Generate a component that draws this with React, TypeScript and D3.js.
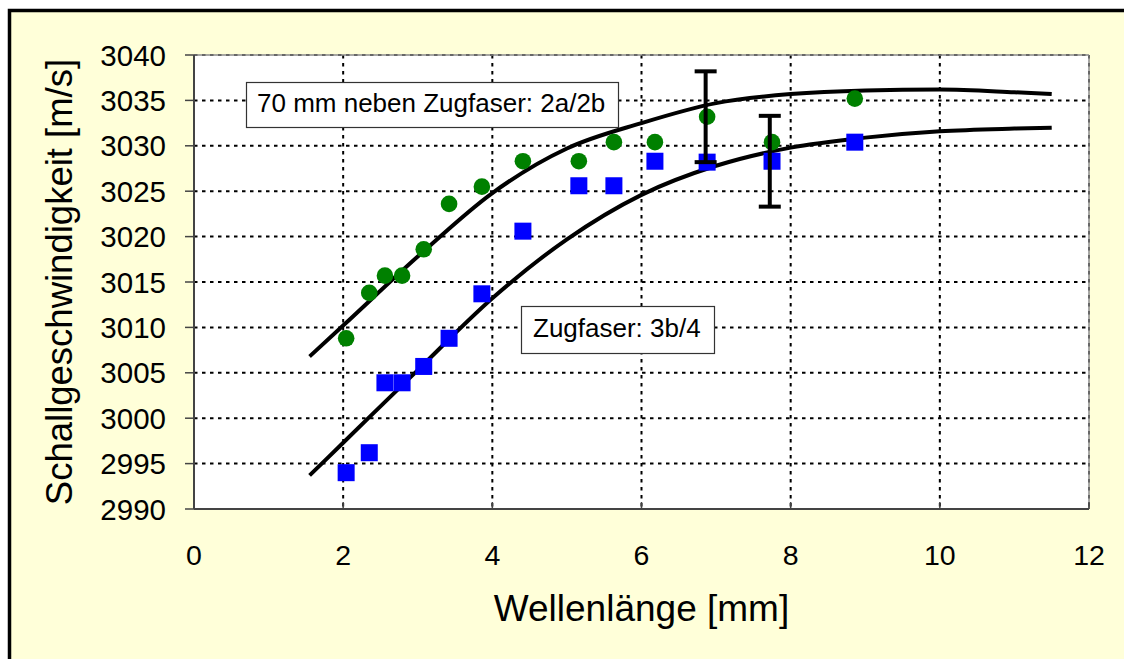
import React from "react";
import * as d3 from "d3";

// Measured wavelength positions (mm)
const wavelengths = [2.04, 2.35, 2.56, 2.79, 3.08, 3.42, 3.86, 4.41, 5.16, 5.63, 6.18, 6.88, 7.75, 8.86];
// Sound speed, 70 mm beside tension fibre (2a/2b), m/s
const speedBeside = [3008.8, 3013.8, 3015.7, 3015.7, 3018.6, 3023.6, 3025.5, 3028.3, 3028.3, 3030.4, 3030.4, 3033.2, 3030.4, 3035.2];
// Sound speed, tension fibre (3b/4), m/s
const speedFibre = [2994.0, 2996.2, 3003.9, 3003.9, 3005.7, 3008.8, 3013.7, 3020.6, 3025.6, 3025.6, 3028.3, 3028.2, 3028.3, 3030.4];

// Fitted trend curves
const fitX = [1.55, 2, 3, 4, 5, 6, 7, 8, 9, 10, 11, 11.5];
const fitBeside = [3006.8, 3010.2, 3017.8, 3024.8, 3029.7, 3032.5, 3034.7, 3035.7, 3036.1, 3036.2, 3035.9, 3035.7];
const fitFibre = [2993.7, 2997.3, 3005.3, 3013.2, 3019.7, 3024.6, 3027.8, 3029.8, 3030.9, 3031.6, 3031.9, 3032.0];

// Error bars: x, centre, half-range
const errX = [6.86, 7.72];
const errCentre = [3033.2, 3028.3];
const errHalf = [5.0, 5.0];

const xTicks = [0, 2, 4, 6, 8, 10, 12];
const yTicks = [2990, 2995, 3000, 3005, 3010, 3015, 3020, 3025, 3030, 3035, 3040];

const W = 1124;
const H = 659;
const plot = { left: 194, top: 55, right: 1089, bottom: 509 };
const FONT = "'Liberation Sans', Arial, sans-serif";

export default function App() {
  const x = d3.scaleLinear().domain([0, 12]).range([plot.left, plot.right]);
  const y = d3.scaleLinear().domain([2990, 3040]).range([plot.bottom, plot.top]);

  const line = d3
    .line<number>()
    .x((_, i) => x(fitX[i]))
    .y((d) => y(d))
    .curve(d3.curveMonotoneX);

  const sq = 17;

  return (
    <svg
      width={W}
      height={H}
      style={{ position: "absolute", left: 0, top: 0, display: "block" }}
      fontFamily={FONT}
    >
      <rect x={0} y={0} width={W} height={H} fill="#ffffff" />
      {/* outer chart frame */}
      <rect x={9.5} y={10.5} width={W + 20} height={H + 20} fill="#FFFFD9" stroke="#000" strokeWidth={3.5} />

      {/* plot area */}
      <rect
        x={plot.left}
        y={plot.top}
        width={plot.right - plot.left}
        height={plot.bottom - plot.top}
        fill="#fff"
      />

      {/* grid */}
      {yTicks.slice(1).map((t) => (
        <line
          key={"gy" + t}
          x1={plot.left}
          x2={plot.right}
          y1={y(t)}
          y2={y(t)}
          stroke="#000"
          strokeWidth={2}
          strokeDasharray="3.5,4.5"
        />
      ))}
      {xTicks.slice(1).map((t) => (
        <line
          key={"gx" + t}
          x1={x(t)}
          x2={x(t)}
          y1={plot.top}
          y2={plot.bottom}
          stroke="#000"
          strokeWidth={2}
          strokeDasharray="3.5,4.5"
        />
      ))}

      {/* plot border top/right */}
      <line x1={plot.left} x2={plot.right} y1={plot.top} y2={plot.top} stroke="#8a8a8a" strokeWidth={1.5} />
      <line x1={plot.right} x2={plot.right} y1={plot.top} y2={plot.bottom} stroke="#8a8a8a" strokeWidth={1.5} />

      {/* axes */}
      <line x1={plot.left} x2={plot.left} y1={plot.top} y2={plot.bottom} stroke="#444" strokeWidth={2} />
      <line x1={plot.left} x2={plot.right} y1={plot.bottom} y2={plot.bottom} stroke="#444" strokeWidth={2} />
      {yTicks.map((t) => (
        <line key={"ty" + t} x1={plot.left - 9} x2={plot.left} y1={y(t)} y2={y(t)} stroke="#444" strokeWidth={1.5} />
      ))}
      {xTicks.map((t) => (
        <line key={"tx" + t} x1={x(t)} x2={x(t)} y1={plot.bottom - 7} y2={plot.bottom} stroke="#444" strokeWidth={1.5} />
      ))}

      {/* tick labels */}
      {yTicks.map((t) => (
        <text key={"ly" + t} x={166} y={y(t) + 10.5} textAnchor="end" fontSize={29.5} fill="#000">
          {t}
        </text>
      ))}
      {xTicks.map((t) => (
        <text key={"lx" + t} x={x(t)} y={565} textAnchor="middle" fontSize={28.5} fill="#000">
          {t}
        </text>
      ))}

      {/* axis titles */}
      <text
        transform={`translate(72, ${(plot.top + plot.bottom) / 2}) rotate(-90)`}
        textAnchor="middle"
        fontSize={36.5}
        fill="#000"
      >
        Schallgeschwindigkeit [m/s]
      </text>
      <text x={(plot.left + plot.right) / 2} y={621} textAnchor="middle" fontSize={37} fill="#000">
        Wellenlänge [mm]
      </text>

      {/* fit curves */}
      <path d={line(fitBeside) || ""} fill="none" stroke="#000" strokeWidth={4} />
      <path d={line(fitFibre) || ""} fill="none" stroke="#000" strokeWidth={4} />

      {/* data markers */}
      {wavelengths.map((w, i) => (
        <circle key={"c" + i} cx={x(w)} cy={y(speedBeside[i])} r={8.3} fill="#008000" />
      ))}
      {wavelengths.map((w, i) => (
        <rect
          key={"s" + i}
          x={x(w) - sq / 2}
          y={y(speedFibre[i]) - sq / 2}
          width={sq}
          height={sq}
          fill="#0000FF"
        />
      ))}

      {/* error bars */}
      {errX.map((ex, i) => {
        const cx = x(ex);
        const t = y(errCentre[i] + errHalf[i]);
        const b = y(errCentre[i] - errHalf[i]);
        return (
          <g key={"e" + i} stroke="#000" strokeWidth={4}>
            <line x1={cx} x2={cx} y1={t} y2={b} />
            <line x1={cx - 11} x2={cx + 11} y1={t} y2={t} />
            <line x1={cx - 11} x2={cx + 11} y1={b} y2={b} />
          </g>
        );
      })}

      {/* series labels */}
      <rect x={246.5} y={82.5} width={372} height={45} fill="#fff" stroke="#333" strokeWidth={1.2} />
      <text x={257} y={112} fontSize={26} fill="#000">
        70 mm neben Zugfaser: 2a/2b
      </text>
      <rect x={521.5} y={306.5} width={193} height={47} fill="#fff" stroke="#333" strokeWidth={1.2} />
      <text x={533} y={337} fontSize={26} fill="#000">
        Zugfaser: 3b/4
      </text>
    </svg>
  );
}
